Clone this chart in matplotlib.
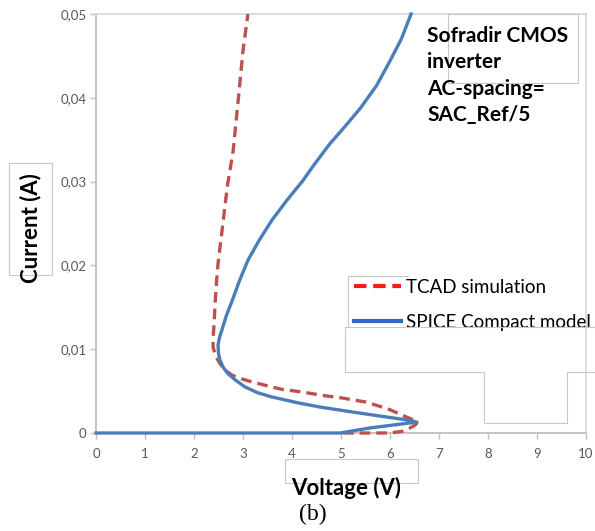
import matplotlib
matplotlib.use("Agg")
import matplotlib.pyplot as plt
from matplotlib.lines import Line2D
from matplotlib.patches import Rectangle

plt.rcParams['font.family'] = ['Lato', 'DejaVu Sans']

# SPICE compact model (blue solid)
spice_v = [0, 4.98, 5.59, 6.27, 6.55, 6.3, 5.94, 5.24, 4.57, 4.12, 3.59, 3.3, 3.04,
           2.85, 2.69, 2.6, 2.53, 2.50, 2.49, 2.52, 2.57, 2.66, 2.78, 2.93, 3.10,
           3.33, 3.59, 3.9, 4.22, 4.45, 4.77, 5.07, 5.40, 5.73, 6.0, 6.23, 6.43]
spice_i = [0, 0, 0.0006, 0.0011, 0.0013, 0.0016, 0.0019, 0.0025, 0.0031, 0.0036,
           0.0043, 0.0048, 0.0055, 0.0063, 0.0071, 0.0078, 0.0087, 0.0095, 0.0105,
           0.0114, 0.0123, 0.014, 0.0158, 0.0182, 0.0206, 0.0230, 0.0254, 0.0278,
           0.0301, 0.032, 0.0345, 0.0365, 0.0388, 0.0415, 0.0444, 0.047, 0.05]

# TCAD simulation (red dashed)
tcad_v = [5.04, 6.0, 6.25, 6.41, 6.5, 6.57, 6.5, 6.3, 5.95, 5.5, 5.0, 4.61, 4.2,
          3.80, 3.45, 3.18, 2.95, 2.78, 2.63, 2.53, 2.45, 2.39, 2.39, 2.41, 2.43,
          2.46, 2.49, 2.54, 2.59, 2.64, 2.69, 2.80, 2.90, 3.0, 3.10]
tcad_i = [0, 0, 0.0002, 0.0006, 0.0009, 0.0013, 0.0015, 0.0020, 0.0029, 0.0037,
          0.0042, 0.0045, 0.0049, 0.0052, 0.0057, 0.0061, 0.0065, 0.0069, 0.0075,
          0.0083, 0.0091, 0.0102, 0.0114, 0.013, 0.0155, 0.018, 0.0202, 0.0226,
          0.025, 0.0275, 0.0298, 0.0337, 0.0396, 0.0456, 0.05]

x_ticks = [0, 1, 2, 3, 4, 5, 6, 7, 8, 9, 10]
y_ticks = [0, 0.01, 0.02, 0.03, 0.04, 0.05]
y_tick_labels = ['0', '0,01', '0,02', '0,03', '0,04', '0,05']

W, H = 595, 531
fig = plt.figure(figsize=(W / 100, H / 100), dpi=100)
ax = fig.add_axes([96 / W, 1 - 433 / H, (586 - 96) / W, (433 - 14) / H])

ax.plot(tcad_v, tcad_i, color='#c0504d', lw=2.4, dashes=(3.2, 1.8), clip_on=False, zorder=3)
ax.plot(spice_v, spice_i, color='#4a7ebb', lw=2.4, clip_on=False, zorder=4)

ax.set_xlim(0, 10)
ax.set_ylim(0, 0.05)
ax.set_xticks(x_ticks)
ax.set_yticks(y_ticks)
ax.set_yticklabels(y_tick_labels)
ax.tick_params(colors='#bfbfbf', labelcolor='#595959', labelsize=9.5, length=4, width=1)
ax.tick_params(axis='x', pad=7)
ax.tick_params(axis='y', pad=3)

for side in ['left', 'bottom']:
    ax.spines[side].set_color('#bfbfbf')
    ax.spines[side].set_linewidth(1.3)
for side in ['top', 'right']:
    ax.spines[side].set_color('#d9d9d9')
    ax.spines[side].set_linewidth(1.3)

# axis labels
fig.text(31 / W, 1 - 228 / H, 'Current (A)', rotation=90, fontsize=16, fontweight='bold',
         ha='center', va='center')
fig.text(346 / W, 1 - 488 / H, 'Voltage (V)', fontsize=16, fontweight='bold',
         ha='center', va='center')
fig.text(313 / W, 1 - 514 / H, '(b)', fontsize=17, family='Liberation Serif',
         ha='center', va='center')

# annotation
fig.text(427 / W, 1 - 26 / H, 'Sofradir CMOS\ninverter\nAC-spacing=\nSAC_Ref/5',
         fontsize=15, fontweight='bold', ha='left', va='top', linespacing=1.4)

# stray gray boxes
def box(x0, y0, x1, y1):
    fig.add_artist(Rectangle((x0 / W, 1 - y1 / H), (x1 - x0) / W, (y1 - y0) / H,
                             transform=fig.transFigure, fill=False, ec='#c8c8c8', lw=0.8))

box(9, 163, 52, 275)
box(285, 459, 418, 483)
box(448, 14, 578, 83)

def seg(pts):
    xs = [p[0] / W for p in pts]
    ys = [1 - p[1] / H for p in pts]
    fig.add_artist(Line2D(xs, ys, transform=fig.transFigure, color='#c8c8c8', lw=0.8))

seg([(408, 276), (348, 276), (348, 327)])
seg([(595, 327), (345, 327), (345, 372), (484, 372), (484, 423), (567, 423),
     (567, 372), (595, 372)])

# legend
handles = [Line2D([], [], color='#ff1a1a', lw=3, dashes=(3, 1.6)),
           Line2D([], [], color='#2b6cc4', lw=3)]
ax.legend(handles, ['TCAD simulation', 'SPICE Compact model'], loc='upper left',
          bbox_to_anchor=(354 / W, 1 - 279 / H), bbox_transform=fig.transFigure,
          frameon=False, fontsize=13.5, handlelength=2.5, handletextpad=0.3,
          labelspacing=0.95, borderpad=0, borderaxespad=0)

fig.savefig('out.png', dpi=100)
